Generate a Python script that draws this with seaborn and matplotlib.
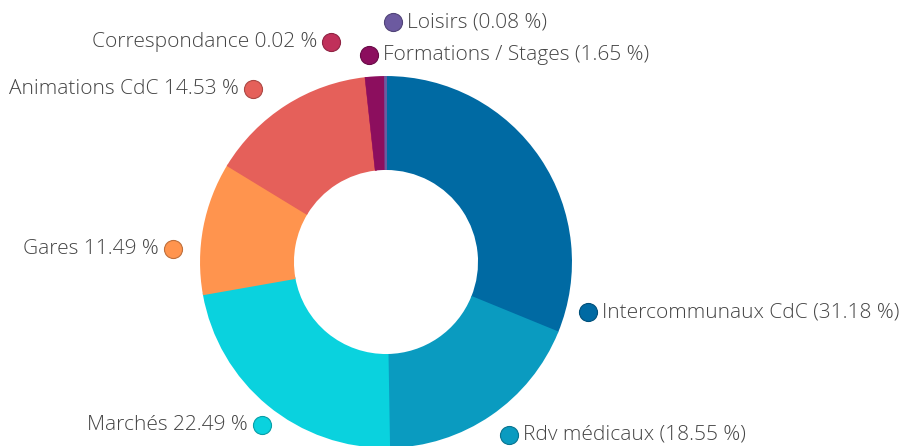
import matplotlib
matplotlib.use("Agg")
import matplotlib.pyplot as plt
import seaborn as sns

# Data (clockwise from 12 o'clock)
categories = ['Intercommunaux CdC', 'Rdv médicaux', 'Marchés', 'Gares',
              'Animations CdC', 'Correspondance', 'Formations / Stages', 'Loisirs']
shares = [31.18, 18.55, 22.49, 11.49, 14.53, 0.02, 1.65, 0.08]
slice_colors = ['#006aa3', '#0a9bc0', '#0ad2de', '#ff944e',
                '#e5605a', '#c0305a', '#8c0e5e', '#6c5aa0']

sns.set_theme(style='white')
plt.rcParams['font.family'] = ['Open Sans', 'DejaVu Sans']

fig = plt.figure(figsize=(9, 4.46), dpi=100)
ax = fig.add_axes([0, 0, 1, 1])

palette = sns.color_palette(slice_colors)
wedges, _ = ax.pie(shares, colors=palette, startangle=90, counterclock=False,
                   radius=185, center=(386, 184), frame=True,
                   wedgeprops=dict(width=92, linewidth=0))
for w in wedges:
    w.set_edgecolor(w.get_facecolor())
    w.set_linewidth(1.4)
ax.set_xlim(0, 900)
ax.set_ylim(0, 446)
ax.axis('off')

# label layout: (marker x, y from top, side)
layout = {
    'Intercommunaux CdC': (588, 312, 'right'),
    'Rdv médicaux': (509, 435, 'right'),
    'Marchés': (262, 425, 'left'),
    'Gares': (173, 249, 'left'),
    'Animations CdC': (253, 89, 'left'),
    'Correspondance': (331, 42, 'left'),
    'Formations / Stages': (369, 55, 'right'),
    'Loisirs': (393, 22, 'right'),
}

for name, val, col in zip(categories, shares, palette):
    mx, my, side = layout[name]
    y = 446 - my
    edge = tuple(c * 0.75 for c in col)
    ax.plot(mx, y, 'o', markersize=13, color=col, markeredgecolor=edge,
            markeredgewidth=0.8, clip_on=False)
    if side == 'right':
        ax.text(mx + 14, y, f'{name} ({val:.2f} %)', ha='left', va='center',
                fontsize=15, fontweight='light', color='#444444')
    else:
        ax.text(mx - 14, y, f'{name} {val:.2f} %', ha='right', va='center',
                fontsize=15, fontweight='light', color='#444444')

fig.savefig('out.png', dpi=100)
